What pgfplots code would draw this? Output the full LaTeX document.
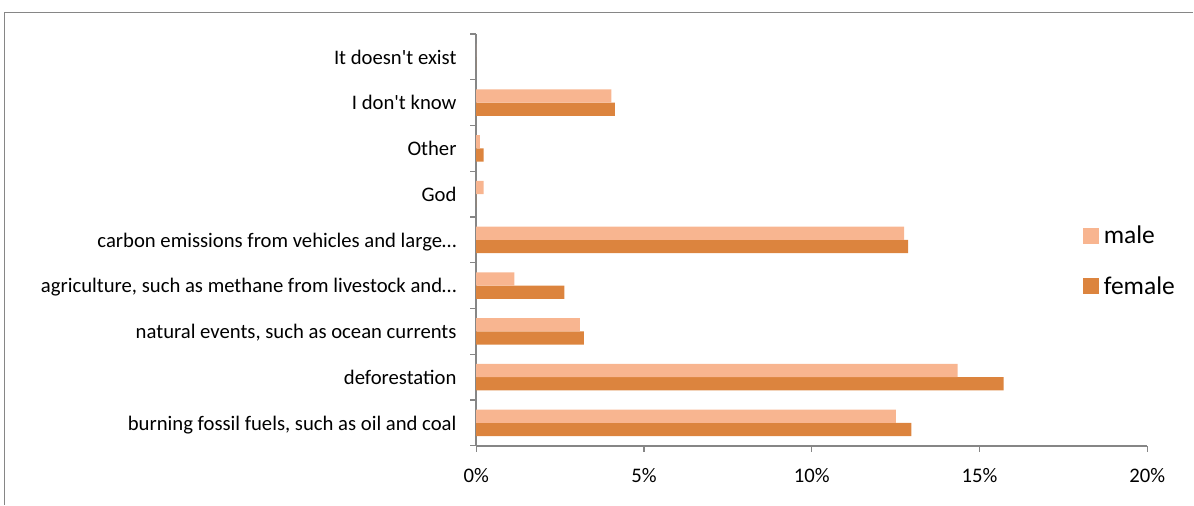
\documentclass[border=0pt]{standalone}
\usepackage{fontspec}
\setmainfont{Carlito}
\usepackage{pgfplots}
\usepackage{pgfplotstable}
\pgfplotsset{compat=1.18}
\definecolor{malec}{RGB}{248,181,144}
\definecolor{femalec}{RGB}{220,132,62}
\definecolor{axgray}{RGB}{134,134,134}
\pgfplotstableread{
y male female
0 12.51 12.97
1 14.35 15.72
2 3.09 3.21
3 1.14 2.63
4 12.75 12.87
5 0.22 0
6 0.11 0.22
7 4.03 4.13
8 0 0
}\data
\begin{document}
\begin{tikzpicture}
\begin{axis}[
  scale only axis, width=671.5bp, height=412bp,
  xbar=0pt, bar width=13.3bp,
  xmin=0, xmax=20, ymin=-0.5, ymax=8.5,
  axis x line*=bottom, axis y line*=left,
  axis line style={axgray, line width=1.6bp},
  tick style={axgray, line width=1.2bp},
  tick align=outside, major tick length=6bp,
  xtick={0,5,10,15,20},
  xticklabels={0\%,5\%,10\%,15\%,20\%},
  ytick={-0.5,0.5,1.5,2.5,3.5,4.5,5.5,6.5,7.5,8.5},
  y tick label as interval,
  yticklabels={{burning fossil fuels, such as oil and coal}, {deforestation}, {natural events, such as ocean currents}, {agriculture, such as methane from livestock and…}, {carbon emissions from vehicles and large…}, {God}, {Other}, {I don\textquotesingle t know}, {It doesn\textquotesingle t exist}},
  ticklabel style={font=\fontsize{20.7bp}{24bp}\selectfont, text=black},
  yticklabel style={inner xsep=0pt, xshift=-13.5bp, text depth=0pt},
  xticklabel style={inner ysep=0pt, yshift=-16bp},
  legend style={at={(0.900,0.541)}, anchor=north west, draw=none, fill=none,
    font=\fontsize{25.5bp}{30bp}\selectfont, row sep=29bp,
    nodes={inner xsep=4.5bp, inner ysep=1bp}},
  legend cell align=left,
  reverse legend,
]
\addplot[fill=femalec, draw=none,
  legend image code/.code={\fill[femalec] (0bp,-8bp) rectangle (16bp,8bp);}]
  table[x=female, y=y] {\data};
\addlegendentry{female}
\addplot[fill=malec, draw=none,
  legend image code/.code={\fill[malec] (0bp,-8bp) rectangle (16bp,8bp);}]
  table[x=male, y=y] {\data};
\addlegendentry{male}
\end{axis}
\pgfresetboundingbox
\path ([shift={(-476.5bp,-59bp)}]current axis.south west) rectangle ([shift={(717.5bp,446bp)}]current axis.south west);
\draw[axgray, line width=1.5bp] ([shift={(-472bp,-59bp)}]current axis.south west) -- ([shift={(-472bp,433.5bp)}]current axis.south west) -- ([shift={(717.5bp,433.5bp)}]current axis.south west);
\end{tikzpicture}
\end{document}
